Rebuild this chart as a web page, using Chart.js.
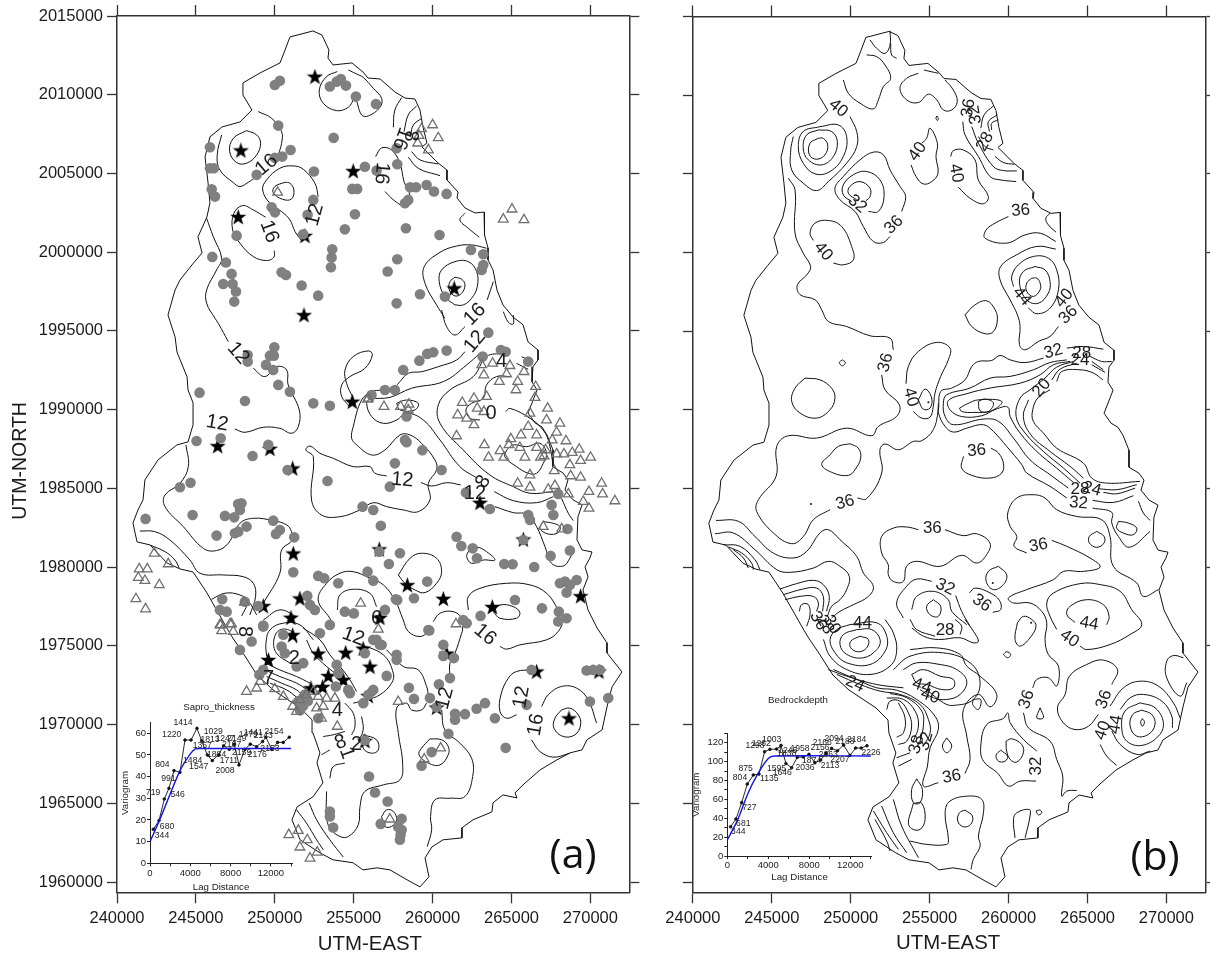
<!DOCTYPE html>
<html>
<head>
<meta charset="utf-8">
<title>Sapro thickness and bedrock depth</title>
<script src="https://cdn.jsdelivr.net/npm/chart.js@4/dist/chart.umd.min.js"></script>
<style>
  html, body { margin: 0; padding: 0; background: #fff; }
  #page { position: relative; width: 1210px; height: 956px; overflow: hidden; }
  canvas { position: absolute; }
</style>
</head>
<body>
<div id="page">
  <canvas id="mapA" width="640" height="956" style="left:0;top:0"></canvas>
  <canvas id="mapB" width="570" height="956" style="left:640px;top:0"></canvas>
  <canvas id="insetA" width="190" height="200" style="left:120px;top:695px"></canvas>
  <canvas id="insetB" width="200" height="195" style="left:691px;top:690px"></canvas>
</div>
<script>
// all map values below are km (east, north) pairs, scaled to metres when plotted
const loop = p => p.concat(p.slice(0, 2));

const xTicks = [240000, 245000, 250000, 255000, 260000, 265000, 270000];
const yTicks = [1960000, 1965000, 1970000, 1975000, 1980000, 1985000, 1990000, 1995000, 2000000, 2005000, 2010000, 2015000];
const lagTicks = [0, 2000, 4000, 6000, 8000, 10000, 12000, 14000];
const lagTickLabels = [0, 4000, 8000, 12000];
const gammaTicksA = [0, 10, 20, 30, 40, 50, 60];
const gammaTicksB = [0, 10, 20, 30, 40, 50, 60, 70, 80, 90, 100, 110, 120, 130];
const gammaTickLabelsB = [0, 20, 40, 60, 80, 100, 120];

const boundary = loop([
  252.42,2014.05, 252.99,2013.79, 253.43,2012.84, 253.37,2012.33, 253.69,2011.89, 254.89,2012.02, 255.59,2011.44, 255.91,2011.06,
  256.67,2011.0, 257.62,2010.17, 258.25,2009.79, 258.88,2009.73, 259.2,2009.03, 259.39,2007.95, 259.64,2006.94, 259.33,2006.68,
  260.34,2005.67, 260.91,2005.22, 260.91,2004.59, 261.61,2003.82, 261.55,2003.44, 262.05,2002.81, 262.69,2002.49, 263.26,2002.55,
  263.32,2001.41, 263.26,2001.09, 263.51,2000.27, 263.51,1999.51, 263.83,1998.87, 264.08,1997.6, 264.46,1996.65, 265.09,1995.89,
  265.73,1995.39, 266.05,1994.3, 266.68,1993.79, 266.68,1993.16, 266.36,1992.72, 266.3,1991.76, 266.62,1991.25, 266.3,1990.43,
  266.05,1989.79, 266.49,1989.16, 266.93,1988.9, 267.25,1988.39, 267.63,1987.44, 267.63,1986.36, 268.26,1985.98, 268.58,1985.54,
  268.39,1984.9, 268.9,1984.27, 269.47,1983.95, 269.21,1983.19, 269.15,1981.73, 269.47,1981.09, 270.1,1980.96, 269.97,1980.58,
  269.66,1980.01, 269.85,1979.38, 269.53,1978.55, 269.85,1977.28, 270.42,1976.14, 271.05,1975.19, 271.05,1974.55, 272.0,1973.34,
  271.37,1972.39, 271.05,1971.12, 270.74,1969.66, 269.78,1969.03, 269.47,1968.39, 268.71,1968.2, 267.88,1967.76, 266.81,1967.12,
  265.73,1966.17, 265.22,1965.66, 265.35,1965.34, 264.46,1965.53, 263.83,1965.03, 263.76,1964.45, 262.56,1963.95, 261.86,1963.44,
  261.86,1962.8, 260.66,1962.68, 259.96,1962.23, 259.52,1961.53, 259.77,1960.33, 259.2,1959.69, 258.38,1960.14, 257.3,1960.77,
  256.48,1960.9, 255.59,1960.77, 254.96,1961.22, 253.69,1961.41, 252.86,1961.85, 251.6,1962.68, 251.09,1963.95, 251.41,1964.77,
  252.42,1965.41, 253.05,1966.3, 252.67,1967.57, 252.86,1968.2, 252.42,1969.47, 252.36,1970.3, 251.6,1971.06, 249.89,1972.2,
  248.87,1973.15, 247.98,1974.55, 247.29,1975.57, 247.03,1976.01, 245.7,1978.36, 244.82,1979.69, 244.0,1979.88, 243.17,1980.26,
  242.09,1981.41, 241.27,1981.6, 241.01,1982.8, 241.33,1983.63, 241.65,1984.27, 241.77,1985.54, 242.6,1986.81, 243.8,1987.76,
  244.5,1987.95, 244.82,1989.03, 244.82,1990.43, 244.5,1991.25, 244.44,1992.08, 243.8,1993.66, 243.68,1994.62, 243.23,1996.01,
  243.68,1997.6, 243.99,1998.23, 244.75,1999.19, 245.39,1999.95, 245.13,2000.97, 245.7,2002.24, 245.89,2003.13, 245.77,2004.4,
  245.58,2006.05, 245.89,2007.32, 246.65,2007.95, 247.79,2008.27, 248.55,2009.03, 247.98,2009.98, 247.98,2010.75, 249.06,2011.38,
  250.33,2012.02, 250.65,2012.84, 250.96,2013.67
]);

const wellDots = [
  250.0,2010.62, 250.32,2010.88, 253.49,2010.52, 253.92,2010.83, 254.19,2011.0, 254.51,2010.58, 255.14,2009.88, 256.41,2009.41,
  250.22,2008.04, 253.73,2007.26, 245.89,2006.66, 251.0,2006.49, 250.0,2005.99, 250.47,2006.07, 245.89,2005.33, 246.14,2005.33,
  248.85,2004.91, 252.48,2005.12, 255.71,2005.43, 256.45,2005.18, 257.72,2006.6, 257.76,2005.58, 246.0,2003.99, 246.21,2003.53,
  254.91,2004.02, 255.22,2004.02, 252.44,2003.32, 249.8,2002.85, 250.01,2002.53, 252.08,2002.37, 251.8,2001.14, 247.58,2001.05,
  255.08,2002.41, 254.44,2001.45, 253.64,2000.18, 253.6,1999.66, 253.56,1999.04, 246.04,1999.7, 246.9,1999.34, 247.26,1998.62,
  246.73,1997.98, 247.33,1997.98, 247.54,1997.5, 247.43,1996.86, 250.43,1998.72, 250.71,1998.55, 251.7,1997.88, 252.75,1997.24,
  257.15,1998.77, 257.76,1999.55, 257.72,1996.75,
  258.57,2004.12, 258.95,2004.12, 259.62,2004.27, 260.09,2003.85, 260.89,2003.7, 258.25,2003.11, 258.46,2003.32, 258.31,2001.52,
  260.44,2001.09, 262.43,2000.14, 263.21,1999.87, 263.11,1998.87, 263.21,1999.19, 259.2,1997.33, 260.78,1997.18,
  249.97,1993.96, 248.28,1993.47, 248.28,1993.05, 249.69,1993.43, 249.94,1993.43, 249.44,1992.84, 249.9,1992.52, 250.22,1991.57,
  250.96,1991.14, 245.23,1991.08, 248.11,1990.55, 252.44,1990.4, 253.49,1990.25, 256.13,1990.93, 256.98,1991.25, 257.61,1991.25,
  245.04,1988.01, 246.57,1988.18, 249.59,1987.76, 248.59,1987.06, 250.81,1986.17, 253.34,1985.47, 257.61,1986.59, 257.29,1985.11,
  244.66,1985.36, 243.99,1985.07, 247.68,1984.01, 247.89,1984.05, 247.79,1983.63, 244.79,1983.31, 246.84,1983.25, 247.43,1983.16,
  241.81,1983.06, 248.21,1982.57, 247.68,1982.25, 247.47,1982.15, 246.31,1982.0, 249.9,1982.95, 250.32,1982.36, 250.07,1982.1,
  251.23,1981.89, 255.56,1983.84, 256.24,1983.63, 256.72,1982.63, 256.62,1980.98, 257.93,1980.88, 257.23,1980.2, 251.17,1979.67,
  255.88,1979.71, 256.24,1979.14, 252.75,1979.44, 253.13,1979.29, 254.02,1978.97, 252.06,1978.17, 252.23,1977.6, 252.54,1977.28,
  246.67,1977.96, 246.52,1977.28, 246.95,1977.17, 248.95,1977.53, 248.1,1977.8, 254.44,1977.17, 255.01,1977.06, 256.98,1977.28,
  257.67,1977.95, 249.27,1976.22,
  263.53,1994.89, 260.89,1993.75, 260.04,1993.64, 259.66,1993.54, 259.16,1993.11, 258.14,1992.52, 263.17,1993.37, 264.33,1993.79,
  264.63,1993.68, 266.06,1993.05, 258.35,1989.56, 258.25,1988.07, 258.35,1987.93, 259.35,1987.42, 260.57,1986.17, 262.11,1984.73,
  263.63,1983.69, 266.06,1983.31, 266.17,1982.99, 267.96,1984.64, 267.54,1983.95, 267.65,1983.31, 268.55,1982.42, 261.52,1981.93,
  261.82,1981.34, 262.54,1981.19, 262.81,1980.56, 264.54,1980.2, 265.07,1980.18, 266.44,1980.01, 267.48,1980.71, 268.7,1981.05,
  265.75,1981.72, 259.66,1979.08, 258.82,1978.02, 257.76,1977.91, 265.22,1977.91, 266.93,1977.38, 263.04,1976.9, 268.0,1977.17,
  268.49,1976.75, 267.96,1976.54, 268.07,1978.97, 268.39,1979.08, 269.13,1979.18, 268.49,1978.38, 268.7,1978.87, 261.94,1976.64,
  262.16,1976.43, 259.73,1976.0,
  256.24,1975.38, 256.66,1975.06, 257.72,1974.43, 257.72,1974.11, 259.79,1975.97, 260.68,1975.06, 260.68,1974.36, 261.35,1974.22,
  261.1,1972.95, 257.09,1973.09, 258.5,1972.33, 260.4,1972.56, 256.24,1972.2, 255.93,1971.89, 255.61,1971.36, 258.82,1971.63,
  259.83,1971.68, 260.25,1971.1, 261.42,1970.68, 261.42,1970.3, 262.05,1970.66, 262.79,1971.0, 263.32,1971.36, 263.95,1970.4,
  265.96,1971.25, 266.27,1973.47, 269.76,1973.43, 270.18,1973.47, 270.6,1973.47, 271.13,1971.68, 269.97,1971.46, 261.0,1969.41,
  259.94,1968.25, 259.3,1967.38, 264.63,1968.52, 255.71,1968.99, 255.97,1966.7, 256.35,1965.68, 257.15,1965.11, 258.04,1964.01,
  256.71,1963.69, 258.04,1963.31, 257.97,1963.0, 257.93,1962.68,
  249.27,1976.29, 250.54,1975.7, 252.86,1975.8, 253.49,1976.33, 250.43,1974.96, 250.64,1974.53, 251.8,1973.9, 251.38,1973.69,
  249.27,1973.47, 249.02,1973.16, 248.53,1975.27, 247.79,1974.74, 253.92,1973.79, 254.02,1973.26, 253.87,1972.42, 254.65,1972.2,
  254.76,1971.99, 255.71,1974.53, 256.45,1975.38, 256.77,1975.06, 252.75,1970.4, 253.49,1964.48, 253.49,1964.16, 253.7,1963.46,
  257.82,1963.5, 251.5,1971.5, 251.8,1971.2, 252.1,1971.5, 251.6,1970.9, 251.9,1971.9, 251.7,1971.3
];

const wellStars = [
  252.54,2011.11, 247.85,2006.43, 254.97,2005.12, 247.68,2002.2, 251.91,2001.0, 251.85,1995.97, 261.37,1997.67, 254.91,1990.47,
  246.38,1987.65, 249.69,1987.48, 251.13,1986.23, 251.17,1980.83, 256.62,1981.09, 251.59,1977.97, 249.27,1977.49, 251.02,1976.75,
  256.66,1976.75, 263.0,1984.05, 265.75,1981.72, 258.4,1978.82, 260.68,1977.95, 263.78,1977.43, 269.38,1978.12, 251.13,1975.65,
  249.59,1974.07, 252.75,1974.47, 254.49,1974.53, 256.03,1973.64, 253.39,1973.05, 254.34,1972.8, 252.29,1972.27, 253.03,1972.35,
  255.92,1971.78, 255.6,1974.79, 260.89,1974.47, 260.25,1971.04, 266.59,1973.33, 270.54,1973.33, 268.64,1970.36, 255.71,1968.92
];

const wellTriangles = [
  250.18,2003.8, 260.0,2008.08, 259.3,2007.83, 259.14,2007.4, 260.36,2007.26, 259.05,2006.92, 259.73,2006.49, 265.03,2002.73,
  264.48,2002.09, 265.79,2002.05, 255.93,1990.72, 256.92,1990.19, 257.97,1990.19, 258.5,1990.34, 258.46,1989.98, 263.11,1992.84,
  263.8,1992.94, 264.9,1992.79, 263.25,1992.2, 264.69,1992.26, 264.23,1991.78, 265.79,1992.41, 265.39,1991.78, 265.28,1991.25,
  266.53,1991.46, 266.49,1990.76, 261.88,1990.45, 262.62,1990.72, 263.42,1990.83, 262.83,1990.08, 263.25,1989.87, 261.59,1989.66,
  262.16,1989.45, 262.62,1989.03, 261.52,1988.33, 267.29,1990.08, 266.17,1989.77, 267.22,1989.34, 268.07,1989.13, 266.06,1988.92,
  267.86,1988.56, 265.6,1988.39, 266.59,1988.39, 264.96,1988.14, 267.58,1988.07, 268.45,1988.01, 263.28,1987.76, 264.84,1987.76,
  264.27,1987.38, 265.53,1987.59, 266.59,1987.59, 267.16,1987.44, 269.29,1987.48, 268.85,1987.27, 268.32,1987.18, 267.86,1987.18,
  267.06,1987.06, 266.84,1986.97, 270.01,1986.97, 263.55,1986.97, 264.52,1986.97, 265.85,1986.97, 269.38,1986.76, 268.7,1986.49,
  267.71,1986.11, 268.75,1985.79, 269.38,1985.7, 266.17,1985.85, 270.71,1985.32, 265.39,1985.32, 266.17,1985.07, 267.75,1985.17,
  267.33,1984.94, 268.6,1984.64, 269.91,1984.79, 270.77,1984.64, 271.55,1984.2, 269.55,1984.16, 269.91,1983.73, 267.01,1982.57,
  268.18,1982.42, 261.48,1976.39, 255.44,1977.7, 256.56,1976.05,
  242.36,1980.88, 243.25,1980.2, 241.41,1979.88, 241.92,1979.88, 241.35,1979.33, 241.77,1979.14, 242.68,1978.87, 241.2,1977.98,
  241.81,1977.34, 255.88,1990.66, 248.07,1977.76, 246.57,1976.32, 247.26,1976.39, 246.52,1976.33, 247.16,1976.4, 246.63,1975.95,
  247.37,1975.91, 248.21,1972.1, 248.85,1972.31, 249.06,1972.73, 250.0,1972.27, 250.54,1971.78, 251.13,1971.15, 251.38,1970.83,
  251.6,1971.57, 252.0,1971.89, 252.44,1972.1, 252.75,1971.78, 253.28,1971.67, 253.81,1971.67, 252.65,1971.04, 253.07,1971.15,
  252.96,1970.4, 253.96,1969.88, 257.82,1971.46, 257.29,1963.99, 250.89,1963.0, 251.49,1963.27, 252.06,1962.68, 251.59,1962.21,
  252.69,1961.89, 252.23,1961.51, 260.51,1968.5, 259.47,1967.8
];

const contoursA = [
  [253.96,2011.47, 253.28,2011.15, 252.82,2010.3, 253.07,2009.46, 253.92,2008.99, 254.66,2009.2, 255.08,2009.71, 255.5,2008.72, 255.92,2008.65, 256.66,2009.2, 256.77,2009.77, 256.24,2010.41, 255.6,2011.1, 255.18,2011.32, 254.66,2011.57],
  loop([248.21,2007.72, 247.37,2007.23, 247.14,2006.39, 247.58,2005.69, 248.21,2005.65, 248.85,2006.18, 249.1,2006.92, 248.85,2007.45]),
  [248.95,2008.93, 249.8,2008.5, 250.43,2007.66, 250.43,2006.92, 250.22,2006.18],
  [246.63,2007.45, 246.35,2006.18, 246.52,2005.22, 247.37,2004.42, 247.79,2004.17, 248.32,2004.44, 248.85,2004.8],
  [252.75,2003.53, 252.54,2004.38, 251.8,2005.27, 251.17,2005.48, 250.32,2005.33, 249.48,2004.59, 249.23,2003.95, 249.69,2003.11, 250.43,2002.58, 250.96,2002.05, 251.28,2001.31, 251.7,2000.73],
  loop([250.64,2004.44, 250.0,2004.17, 249.9,2003.78, 250.49,2003.36, 251.06,2003.38, 251.21,2003.95, 250.96,2004.38]),
  [249.42,2002.22, 248.64,2002.68, 247.96,2002.96, 247.41,2002.47, 247.33,2001.41, 247.79,2000.57, 248.64,1999.72, 249.48,1999.47, 249.94,1999.68, 249.97,2000.1],
  [245.68,2002.15, 246.1,2000.99, 246.63,1999.61, 246.31,1998.87, 245.68,1997.6, 245.68,1996.76, 246.21,1995.8, 246.42,1995.48, 247.05,1994.32],
  [248.64,1992.62, 249.37,1992.1, 250.11,1992.73, 250.75,1992.52, 250.85,1991.57, 251.55,1989.98, 251.49,1988.92, 251.06,1988.5, 250.32,1988.81, 249.27,1988.88, 248.11,1988.56, 247.47,1988.77],
  [258.04,2009.82, 257.61,2009.03, 257.51,2007.93],
  [258.99,2009.29, 258.46,2008.72, 258.19,2007.66],
  [259.3,2008.5, 258.78,2008.08, 258.61,2007.45],
  [258.67,2006.39, 259.2,2005.86, 260.36,2005.6],
  [258.46,2006.03, 259.09,2005.33, 260.47,2004.86],
  [256.39,2006.07, 256.77,2006.62, 257.4,2006.49, 257.93,2005.65, 258.19,2004.48, 258.57,2003.53, 258.25,2002.94, 257.61,2003.25, 256.98,2003.85],
  [262.05,2002.47, 261.73,2002.05, 262.26,2001.52, 262.96,2000.95],
  [260.78,1995.8, 260.25,1996.65, 259.52,1998.02, 259.47,1999.08, 260.47,1999.99, 261.52,2000.39, 262.47,2000.46, 263.42,2000.25],
  loop([261.42,1996.65, 260.78,1997.18, 260.42,1998.13, 260.57,1998.87, 261.42,1999.4, 262.26,1999.4, 262.79,1998.77, 262.83,1997.81, 262.47,1997.07, 261.94,1996.65]),
  loop([261.42,1998.41, 261.1,1998.13, 261.06,1997.6, 261.42,1997.22, 261.84,1997.39, 262.05,1997.92, 261.84,1998.28]),
  [263.85,1998.13, 263.46,1996.97],
  [264.48,1996.22, 264.8,1995.55, 265.11,1995.44, 265.11,1996.01],
  [260.57,1996.33, 260.89,1995.27, 261.42,1994.74, 262.05,1995.27],
  [262.05,1993.68, 261.52,1993.15, 260.36,1992.73, 259.3,1992.41, 258.46,1992.31, 257.93,1991.78, 257.61,1991.46, 256.77,1991.25, 256.14,1991.14, 255.5,1990.61, 254.97,1988.92, 254.87,1988.18, 255.19,1987.76, 256.14,1987.12, 256.98,1987.44, 257.93,1988.39, 258.57,1988.39, 259.3,1987.86, 260.15,1986.8, 260.25,1986.17, 259.73,1985.32, 259.83,1984.26, 259.09,1983.52, 258.14,1983.63, 257.09,1983.84, 256.24,1984.09, 255.4,1983.63, 254.13,1983.2, 252.96,1983.31, 252.33,1984.26, 252.44,1987.01, 251.97,1987.44, 252.23,1987.69, 252.86,1987.23, 253.7,1986.91, 254.97,1986.38, 256.03,1986.38, 256.34,1985.96, 257.08,1985.79],
  [259.26,1985.37, 259.94,1985.15, 260.89,1985.36, 261.78,1985.22],
  [263.0,1993.58, 262.16,1992.84, 260.68,1991.78, 258.67,1991.36, 257.3,1990.78, 256.03,1990.66, 255.82,1990.4, 256.14,1989.56, 256.88,1989.13, 257.72,1989.34, 258.35,1989.77, 259.41,1989.34, 260.47,1988.07, 261.73,1986.38, 262.83,1985.64],
  [264.48,1993.58, 263.42,1993.37, 262.58,1992.1, 261.1,1991.25, 260.36,1990.3, 260.47,1989.13, 261.94,1987.44, 263.63,1985.85, 265.11,1985.11, 266.17,1984.69, 267.65,1984.79],
  [263.91,1984.79, 265.11,1984.22, 266.59,1984.09, 267.65,1984.47],
  [263.95,1983.84, 265.11,1983.46, 265.96,1983.35, 266.59,1982.57, 267.12,1981.3, 267.54,1980.24, 268.28,1980.07, 268.7,1980.56, 268.91,1981.09],
  [264.9,1992.1, 264.06,1992.1, 263.42,1991.57, 263.21,1990.72, 262.47,1990.4, 262.11,1989.98, 262.37,1989.45, 263.0,1989.34],
  [264.63,1989.87, 264.9,1990.08, 266.17,1989.45, 267.01,1988.7, 267.39,1987.86, 267.65,1986.38],
  loop([264.69,1987.44, 265.11,1987.76, 265.96,1987.65, 266.8,1987.86, 267.22,1987.23, 267.01,1986.59, 266.59,1985.96, 266.06,1985.96, 265.32,1986.38, 264.58,1987.0]),
  loop([257.72,1990.4, 258.35,1990.61, 259.09,1990.4, 258.88,1989.98, 257.93,1989.98]),
  loop([267.01,1982.89, 267.65,1982.78, 268.07,1982.57, 267.96,1982.19, 267.33,1982.1, 266.8,1982.46]),
  loop([262.26,1980.98, 262.79,1981.26, 263.42,1980.98, 263.95,1980.45, 263.21,1980.45, 262.47,1980.24, 262.16,1980.66]),
  [254.97,1990.72, 254.55,1991.67, 254.45,1992.52, 254.97,1993.37, 255.93,1993.73, 256.18,1993.47, 255.71,1992.62, 254.76,1992.1, 254.24,1991.57, 254.24,1990.83, 254.76,1990.19],
  loop([257.83,1979.5, 258.57,1980.56, 259.3,1980.88, 260.25,1980.56, 260.57,1979.71, 260.25,1978.97, 259.52,1978.38, 258.88,1978.55, 258.25,1978.97]),
  [262.26,1977.28, 262.26,1978.12, 263.0,1978.65, 264.69,1978.97, 266.17,1978.87, 267.22,1978.34, 267.96,1977.28, 268.24,1976.65, 267.96,1975.91, 267.22,1975.38, 265.53,1975.06, 264.69,1974.79, 264.27,1974.96],
  loop([263.85,1977.17, 264.27,1976.75, 265.32,1976.75, 265.53,1977.11, 265.11,1977.49, 264.27,1977.59]),
  [260.04,1976.54, 260.47,1977.07, 261.31,1977.17, 261.84,1976.75, 261.9,1976.01, 261.84,1975.8, 261.42,1974.53, 261.1,1973.9, 261.1,1972.95],
  [265.64,1993.37, 266.27,1993.05],
  [265.32,1992.94, 266.06,1992.56],
  [268.17,1984.37, 268.6,1983.42, 268.91,1982.95],
  [266.27,1973.47, 265.32,1973.37, 264.8,1972.95, 264.33,1971.89, 264.27,1970.83, 264.69,1970.4, 265.32,1970.62],
  [266.91,1971.15, 267.33,1971.89, 268.17,1972.42, 269.13,1972.31, 269.86,1971.57, 270.39,1970.09],
  [266.27,1969.03, 266.8,1968.29, 267.65,1967.93, 268.7,1968.18],
  loop([268.17,1970.93, 267.75,1970.4, 267.69,1969.77, 268.28,1969.24, 269.02,1969.35, 269.38,1969.98, 269.23,1970.62, 268.7,1971.04]),
  [260.57,1970.93, 260.78,1969.66, 261.73,1968.82, 262.47,1967.86, 262.54,1966.7, 262.05,1965.43, 261.1,1965.32, 260.15,1965.22, 259.87,1964.16, 259.94,1963.31, 259.66,1962.25],
  loop([259.83,1969.09, 259.3,1968.5, 259.14,1968.08, 259.73,1967.55, 260.47,1967.44, 260.99,1968.08, 260.99,1968.61, 260.57,1969.03]),
  [259.62,1971.36, 259.3,1970.93, 258.67,1970.93, 258.35,1971.36, 257.72,1971.04, 257.83,1969.45, 258.1,1967.55, 257.93,1966.49, 256.88,1966.17, 255.71,1965.75, 255.4,1964.8, 255.29,1963.63, 254.66,1962.89, 254.13,1962.89, 253.49,1963.42, 253.28,1964.16, 253.28,1965.75],
  loop([256.77,1964.16, 257.09,1964.58, 257.51,1964.48, 257.72,1963.95, 257.4,1963.53, 256.98,1963.53]),
  [253.7,1976.32, 253.49,1976.75, 252.75,1977.91, 253.28,1978.97, 254.13,1979.61, 254.97,1979.71, 256.03,1979.29, 256.88,1978.87, 257.61,1977.91, 258.14,1976.64, 258.46,1975.91, 259.2,1975.59, 259.79,1975.91],
  [257.09,1974.74, 258.14,1973.69, 259.09,1973.47, 259.62,1972.42, 259.73,1971.78],
  [253.96,1977.28, 254.13,1978.23, 254.97,1978.59, 256.03,1978.33, 256.45,1977.49],
  [252.44,1975.38, 251.59,1976.33, 250.54,1976.44, 249.69,1976.01, 249.44,1975.17, 249.48,1974.32],
  [251.38,1975.17, 251.06,1975.91, 250.32,1976.01, 249.94,1975.38, 250.11,1974.53, 250.96,1973.9],
  [249.42,1973.9, 250.32,1973.47, 251.38,1973.05, 252.23,1972.63],
  [249.37,1973.47, 250.32,1973.05, 251.38,1972.63, 252.12,1972.16],
  [249.48,1973.05, 250.43,1972.63, 251.38,1972.2, 251.85,1971.74],
  [249.69,1972.63, 250.75,1972.2, 251.38,1971.74],
  [251.8,1976.12, 252.86,1975.38, 253.49,1974.43, 254.13,1973.69, 254.76,1972.84, 255.18,1972.1],
  [252.01,1975.38, 252.44,1974.53, 253.28,1973.69, 254.13,1973.05],
  [255.18,1975.17, 256.87,1974.43, 257.51,1973.26, 257.4,1972.63, 256.66,1971.89, 255.81,1971.57, 254.97,1971.36],
  [254.44,1971.36, 254.97,1970.72, 255.08,1969.88, 254.87,1969.35],
  [255.5,1970.51, 255.6,1969.66, 255.29,1968.92],
  [253.07,1969.24, 253.7,1969.35, 254.44,1969.56],
  [252.96,1968.08, 253.49,1968.39],
  [253.49,1966.59, 253.7,1967.33, 254.44,1967.55],
  loop([255.6,1969.35, 256.45,1969.03, 256.56,1968.39, 256.13,1968.18, 255.6,1968.5]),
  [251.38,1964.58, 252.01,1963.74, 252.65,1962.68, 253.07,1962.05],
  [252.18,1965.01, 252.65,1963.95, 253.49,1962.68, 254.34,1961.58],
  [244.37,1987.76, 244.52,1986.38, 243.99,1985.32, 243.04,1984.58, 243.04,1983.84, 244.2,1982.57, 245.47,1981.19, 246.31,1981.05, 247.05,1981.51, 247.79,1982.78, 248.64,1983.1, 249.9,1982.95, 250.75,1982.68, 251.06,1982.25, 251.13,1981.72, 250.43,1981.09, 250.32,1979.61, 249.27,1977.7],
  [241.45,1982.29, 242.4,1982.25, 243.35,1981.72, 244.62,1980.45, 245.26,1979.61, 246.73,1979.5, 248.0,1979.39, 248.64,1978.97, 248.78,1978.12, 248.42,1976.96],
  [242.09,1981.4, 243.04,1980.98, 243.67,1980.45, 243.95,1979.92],
  [245.99,1977.95, 246.84,1978.34, 247.79,1978.23, 248.36,1977.8, 248.85,1976.96],
  [248.32,1977.7, 247.9,1976.9],
  [249.27,1976.64, 250.32,1977.28, 251.38,1976.85]
];

const contourLabelsA = [
  ['16',249.48,2005.54,-40], ['16',249.65,2001.31,70], ['12',252.54,2002.37,-75], ['16',256.77,2005.01,95], ['16',258.04,2007.23,110],
  ['8',258.61,2007.38,90], ['16',262.68,1996.05,-45], ['12',262.68,1994.32,-50], ['4',264.37,1993.05,0], ['0',263.7,1989.77,0],
  ['12',258.08,1985.53,5], ['8',263.21,1985.43,-60], ['12',262.68,1984.69,0], ['12',247.68,1993.58,50], ['12',246.35,1989.13,10],
  ['2',251.23,1974.17,0], ['12',254.97,1975.59,20], ['4',253.96,1970.89,0], ['8',254.17,1968.86,-20], ['2',255.18,1968.71,0],
  ['1',254.55,1968.18,70], ['8',248.1,1975.9,90], ['7',249.6,1972.9,0], ['12',260.78,1971.67,-75], ['12',265.64,1971.74,-80],
  ['16',266.55,1969.98,-80], ['16',263.32,1975.7,40], ['6',256.45,1976.75,0]
];

const contoursB = [
  [249.53,2010.97, 249.85,2010.12, 250.59,2009.49, 251.43,2009.13, 251.75,2009.7, 252.07,2010.55, 252.53,2011.07, 252.17,2011.92, 251.64,2012.45, 251.01,2012.56],
  [251.22,2013.51, 251.64,2012.98, 252.17,2012.66, 252.49,2013.19, 252.49,2014.1],
  [252.53,2013.3, 252.59,2012.56, 252.91,2012.34],
  [254.28,2011.39, 253.54,2011.07, 253.12,2010.44, 253.54,2009.7, 254.28,2009.53, 254.92,2010.06, 255.45,2009.7, 255.87,2009.06, 256.4,2009.06, 256.75,2009.59, 256.5,2010.33, 255.97,2010.97],
  [254.64,2011.6, 255.55,2011.39],
  loop([255.45,2008.68, 255.55,2008.53, 255.49,2008.39, 255.4,2008.53]),
  [254.5,2006.95, 254.81,2007.26, 255.02,2007.9, 255.49,2006.95, 255.4,2006.1, 255.53,2005.04, 255.13,2004.51, 254.6,2004.36, 254.14,2004.83, 253.82,2005.57],
  [256.33,2006.1, 256.5,2006.48, 257.13,2006.52, 257.87,2005.89, 258.08,2004.62, 258.72,2003.56, 258.4,2003.1, 257.56,2003.45, 256.82,2004.15],
  loop([247.95,2007.26, 247.42,2006.95, 247.38,2006.21, 247.84,2005.93, 248.37,2006.21, 248.54,2006.84, 248.26,2007.26]),
  loop([247.95,2007.79, 247.21,2007.48, 246.99,2006.63, 247.31,2005.89, 248.16,2005.57, 248.9,2006.1, 249.15,2007.05, 248.79,2007.69]),
  [248.05,2008, 246.99,2007.69, 246.68,2006.73, 246.99,2005.68, 247.74,2005, 248.69,2005.15, 249.53,2006.1, 249.74,2007.37, 249.21,2008.11, 248.05,2008],
  [249.95,2008.64, 250.38,2007.69, 250.38,2006.73, 249.74,2005.68, 248.58,2004.51, 247.84,2003.94, 246.99,2004.41, 246.26,2005.25, 246.2,2006.52, 246.36,2007.37],
  [250.38,2003.35, 249.85,2003.77, 249.95,2004.2, 250.59,2004.51, 251.22,2004.09, 251.22,2003.56, 250.95,2003.28],
  [251.12,2002.61, 251.75,2002.61, 252.11,2003.56, 251.85,2004.62, 251.01,2005.15, 250.16,2004.94, 249.53,2004.3, 249.53,2003.66, 250.06,2003.24],
  [253.23,2002.61, 253.48,2003.56, 253.12,2004.2, 252.49,2005.25, 252.07,2006.21, 251.43,2006.38, 250.59,2005.89, 249.53,2004.83, 249.0,2004.09, 249.32,2003.35, 250.27,2002.61, 250.8,2001.65, 251.43,2000.7, 252.07,2000.64, 252.49,2001.02],
  [247.63,2000.77, 247.42,2001.23, 247.74,2001.87, 248.58,2002.04, 249.43,2001.65, 250.06,2000.38, 250.17,1999.54, 249.53,1999.22, 248.9,1999.33],
  [246.05,2004.72, 246.47,2003.98, 246.47,2001.23, 246.99,1999.96, 247.46,1999.11, 247.21,1998.58, 246.62,1997.95, 246.79,1997.32, 247.74,1997.0, 248.16,1996.36, 248.58,1995.62, 249.74,1995.3, 251.22,1994.71, 252.49,1994.56, 252.7,1993.82],
  [248.69,1983.66, 247.63,1983.02, 247.0,1981.96, 246.26,1981.5, 245.1,1982.18, 244.04,1983.55, 244.15,1984.29, 245.27,1985.78, 245.31,1987.68, 246.05,1988.36, 247.84,1988.21, 249.74,1988.84, 251.33,1988.36, 251.75,1988.95, 252.91,1989.59, 253.08,1990.33, 252.17,1991.28, 251.96,1992.23],
  [250.42,1984.4, 251.01,1984.36, 251.96,1985.99, 251.85,1987.47, 252.17,1987.83, 253.02,1987.47, 253.97,1988, 254.5,1988.04, 255.23,1988.74, 255.55,1990, 255.7,1991.17, 256.4,1991.39, 257.24,1991.91, 257.67,1992.76, 258.09,1993.08, 258.93,1993.14, 259.46,1993.46, 260.1,1993.18, 261.05,1993.01, 262.21,1993.29],
  [253.5,1991.66, 253.65,1992.76, 254.28,1993.71, 255.45,1994.29, 256.29,1993.93, 256.18,1993.18, 255.7,1992.13, 255.34,1991.07, 255.23,1990.22, 255.02,1989.54, 254.49,1989.48, 253.97,1989.9],
  loop([254.28,1990.64, 254.71,1991.32, 255.13,1990.75, 255.02,1990.11, 254.6,1990.05]),
  loop([249.47,1993.18, 249.66,1993.01, 249.47,1992.8, 249.28,1993.01]),
  loop([247.1,1992.02, 248.05,1991.91, 248.79,1991.38, 249.0,1990.75, 248.69,1990.01, 247.84,1989.48, 246.79,1989.8, 246.26,1990.54, 246.47,1991.38]),
  loop([249.95,1987.85, 250.48,1987.57, 250.63,1986.94, 250.27,1986.2, 249.85,1985.84, 248.9,1985.99, 248.16,1986.52, 248.69,1987.15, 249.21,1987.68]),
  [241.46,1982.98, 242.88,1982.92, 243.93,1981.96, 245.1,1980.9, 246.36,1980.59, 247.21,1981.01, 248.05,1982.18, 248.58,1982.39, 249.32,1981.75, 250.38,1980.69, 250.8,1979.64, 251.43,1978.79, 251.12,1978.15, 250.16,1977.62, 249.32,1977.2, 248.79,1976.78],
  [241.4,1982.13, 242.56,1982.18, 243.93,1981.12, 245.31,1979.85, 246.15,1979.68, 247.63,1979.95, 248.58,1980.38, 249.32,1980.06, 249.91,1979.42, 249.74,1978.58, 249.32,1977.94, 248.79,1977.52, 248.52,1976.88],
  [241.93,1981.43, 242.98,1981.33, 243.93,1980.48, 244.25,1979.85],
  [242.25,1981.29, 243.09,1980.91, 243.72,1980.27, 243.83,1979.85],
  [242.56,1981.12, 243.2,1980.59, 243.51,1979.95],
  [245.52,1978.62, 246.57,1978.96, 247.63,1979.17, 248.26,1978.9, 248.64,1978.15, 248.47,1977.2],
  [245.73,1978.26, 246.99,1978.62, 247.84,1978.68, 248.26,1978.15, 248.22,1977.2],
  [245.84,1977.94, 246.79,1978.15, 247.63,1978.15, 247.95,1977.73, 247.84,1977.2],
  [246.74,1977.2, 246.89,1977.63, 247.31,1977.63, 247.42,1976.99, 247.21,1976.25],
  [255.97,1982.39, 257.13,1982.01, 257.98,1982.13, 258.82,1981.54, 258.61,1980.8, 257.98,1980.27, 257.03,1980.76, 255.66,1980.06, 254.18,1980.38, 253.54,1980.06, 253.33,1979.1, 252.7,1979.1, 252.38,1979.53, 252.38,1980.16, 251.96,1980.91, 251.96,1981.96, 252.7,1982.49, 253.54,1982.56, 254.28,1982.39],
  [257.14,1987.05, 257.03,1986.3, 257.67,1985.84, 258.83,1985.67, 259.57,1985.99, 259.67,1986.62, 259.36,1987.26, 258.89,1987.57],
  loop([257.24,1996.04, 257.88,1996.68, 258.62,1996.93, 259.15,1996.36, 259.29,1995.72, 259.04,1994.98, 258.51,1994.84, 257.67,1995.3]),
  loop([261.47,1998.37, 261.15,1998.06, 261.15,1997.53, 261.57,1997.21, 262.0,1997.63, 262.0,1998.06, 261.79,1998.37]),
  [261.68,1999.11, 260.94,1998.8, 260.69,1998.06, 261.15,1996.99, 261.89,1996.78, 262.52,1997.42, 262.63,1998.16, 262.31,1998.9, 261.68,1999.11],
  [261.26,1996.47, 261.79,1996.11, 262.63,1996.47, 263.16,1997.63, 263.05,1998.9, 262.52,1999.64, 261.57,1999.75, 260.62,1999.22, 260.2,1998.48, 260.31,1997.84],
  [262.99,2000.22, 261.79,2000.39, 260.52,1999.86, 259.5,1999.11, 259.46,1998.27, 260.1,1996.99, 260.56,1996.04, 260.73,1995.3, 260.69,1994.14, 261.05,1993.82, 261.89,1994.35, 262.63,1994.67, 263.16,1995.3],
  [259.99,2002.29, 259.15,2001.87, 258.58,2001.44, 258.51,2000.91, 259.88,2000.6, 261.05,2001.12, 262.0,2001.23, 262.99,2000.7],
  [262.63,2002.5, 262.36,2002.18, 262.52,2001.76, 263.01,2001.29],
  [257.1,2008.32, 257.24,2007.48, 258.09,2006.1, 258.83,2004.83, 259.46,2004.62, 260.48,2004.51],
  [257.67,2008, 258.09,2006.95, 259.04,2005.46, 259.67,2005.21, 260.52,2005.19],
  [259.15,2006.1, 259.67,2005.72, 260.35,2005.61],
  [258.24,2007.9, 258.45,2008.75, 259.04,2009.32],
  [258.79,2007.69, 258.72,2008.32, 259.29,2008.75],
  [258.93,2007.79, 258.93,2008.22, 259.36,2008.43],
  [258.09,2007.37, 258.51,2006.73, 259.04,2006.52],
  [255.56,1990.43, 255.56,1989.8, 255.98,1988.95, 256.51,1988.59, 257.35,1988.84, 258.41,1989.06, 259.04,1988.63, 259.88,1987.68, 260.84,1986.52, 261.15,1985.99, 262.63,1985.14, 263.69,1984.4],
  [263.69,1993.18, 262.63,1993.01, 261.57,1992.55, 260.1,1992.13, 258.83,1992.02, 257.56,1991.39, 256.08,1990.96, 255.87,1990.43, 255.98,1989.58, 256.51,1989.06, 258.41,1989.42, 259.36,1989.27, 260.31,1988.21, 261.36,1986.83, 262.63,1985.88, 263.79,1985.03],
  [263.9,1993.08, 262.84,1992.87, 262.0,1992.23, 260.73,1991.7, 258.83,1991.39, 257.35,1991.03, 256.19,1990.6, 256.29,1990.01, 257.03,1989.58, 258.3,1989.63, 259.21,1990.05, 259.95,1990.18, 260.1,1989.58, 260.73,1988.53, 261.79,1987.36, 263.05,1986.3, 264.11,1985.39],
  loop([256.89,1990.11, 257.35,1990.37, 258.09,1990.64, 259.57,1990.54, 258.93,1989.95, 257.77,1989.84, 257.03,1989.9]),
  loop([258.09,1990.54, 258.51,1990.69, 259.04,1990.43, 258.72,1989.9, 258.19,1989.95]),
  [264.11,1993.08, 263.05,1992.72, 262.31,1992.02, 261.36,1991.28, 260.73,1990.75, 260.48,1989.58, 261.05,1988.53, 262.21,1987.36, 263.48,1986.3, 264.53,1985.35],
  [264.32,1992.97, 263.26,1992.59, 262.74,1991.91],
  [261.26,1990.64, 260.94,1989.58, 261.41,1988.42, 262.63,1987.36, 263.9,1986.41, 264.74,1985.67],
  [263.05,1991.81, 263.37,1992.44, 264.53,1992.55, 265.38,1992.34, 265.97,1991.91],
  [262.63,1991.28, 261.89,1990.81, 261.53,1990.01, 261.57,1989.27, 262.21,1988.53, 263.05,1987.57, 264.74,1986.62, 265.27,1985.67, 266.22,1985.35, 268.33,1985.46],
  [265.69,1984.99, 266.85,1984.93, 268.12,1985.25],
  [266.01,1984.76, 266.85,1984.67, 268.02,1985.03],
  [265.33,1984.25, 266.64,1984.12, 267.91,1984.55],
  [263.69,1993.93, 264.74,1994.03, 266.01,1993.86],
  [265.16,1993.4, 265.9,1993.08, 266.54,1993.08],
  [265.27,1993.08, 266.01,1992.55],
  [265.27,1992.87, 266.12,1992.38],
  [265.33,1983.76, 266.54,1983.49, 266.54,1982.81, 266.96,1981.96, 267.66,1981.27, 268.97,1982.28],
  loop([266.96,1982.92, 267.59,1982.81, 268.12,1982.49, 267.91,1982.07, 267.28,1982.17, 266.85,1982.49]),
  [268.23,1984.19, 268.54,1983.45, 268.97,1982.98],
  [261.15,1980.91, 260.35,1981.33, 260.52,1981.96, 260.1,1982.6, 259.95,1983.45, 260.52,1984.4, 261.57,1984.61, 262.31,1984.4, 263.05,1983.66, 264.32,1983.23, 265.9,1983.02, 266.43,1981.96, 266.64,1980.06, 268.12,1979.0, 268.54,1978.15, 269.49,1978.58],
  [262.74,1981.71, 263.69,1981.33, 265.16,1980.59, 265.8,1980.02, 264.74,1979.74, 263.48,1979.74, 262.84,1979.21, 261.15,1978.58, 259.99,1978.05, 260.31,1977.73, 261.36,1977.73, 262.1,1977.2, 262.42,1976.47, 262.31,1975.41, 262.52,1974.46, 263.16,1973.72, 263.05,1972.45, 262.52,1972.98, 261.79,1972.87, 261.53,1972.34],
  [260.94,1970.75, 261.26,1969.8, 262.63,1968.95, 263.05,1967.79, 263.43,1966.73, 263.37,1965.46, 263.69,1965.78, 264.32,1965.82],
  loop([265.59,1982.28, 266.05,1981.96, 266.05,1981.54, 265.59,1981.27, 265.12,1981.54, 265.12,1981.96]),
  loop([259.36,1980.06, 259.88,1979.53, 259.67,1978.9, 259.04,1978.58, 258.58,1979.11, 258.72,1979.74]),
  [257.52,1978.37, 257.88,1978.68, 258.83,1978.37, 259.42,1977.9, 259.5,1977.31, 259.0,1977.14],
  [255.13,1979.11, 254.18,1979.25, 253.54,1978.79, 252.91,1977.73, 253.33,1976.78],
  loop([255.23,1977.94, 255.7,1977.52, 255.55,1976.88, 255.02,1976.99, 254.81,1977.52]),
  [253.86,1977.31, 254.18,1978.15, 255.23,1978.47, 256.18,1977.94, 256.4,1977.2, 257.35,1976.35],
  [256.65,1978.2, 257.03,1977.2, 257.56,1976.25],
  loop([250.59,1975.62, 251.12,1975.41, 251.01,1974.88, 250.49,1974.63, 250.0,1974.88, 250.0,1975.3]),
  loop([250.38,1976.04, 251.33,1976.04, 251.86,1975.41, 251.65,1974.77, 250.8,1974.25, 249.75,1974.46, 249.32,1975.09, 249.54,1975.73]),
  loop([249.96,1976.36, 251.65,1976.47, 252.28,1975.62, 252.18,1974.67, 251.22,1973.82, 249.75,1973.93, 249.01,1974.56, 248.69,1975.41, 249.11,1976.04]),
  [248.27,1975.41, 248.69,1974.35, 249.75,1973.5, 251.22,1973.19, 252.49,1973.72, 252.91,1974.67, 252.7,1975.83, 252.18,1976.68],
  [248.58,1973.5, 249.75,1973.08, 251.65,1972.55, 253.34,1972.34],
  loop([253.86,1973.19, 254.6,1973.5, 255.66,1973.08, 256.5,1972.87, 256.5,1972.34, 255.77,1972.23, 254.82,1972.55, 254.18,1972.66]),
  [253.34,1973.5, 254.18,1973.93, 255.66,1973.82, 256.72,1973.5, 257.35,1972.76, 256.93,1971.92, 256.08,1971.6, 255.24,1971.71, 254.39,1972.23],
  [252.7,1973.5, 253.76,1974.35, 255.87,1974.56, 257.56,1973.93, 258.19,1972.76, 257.77,1971.6, 256.5,1971.22, 255.87,1971.39, 254.92,1972.13],
  [253.76,1976.68, 254.18,1976.04, 255.34,1975.62],
  [256.93,1975.73, 257.03,1976.26, 256.61,1976.68],
  [257.24,1976.68, 257.77,1975.94, 258.09,1975.3, 257.77,1975.2, 256.93,1975.52, 255.56,1975.41, 254.61,1975.62, 253.87,1976.15],
  [253.76,1974.77, 255.45,1974.88, 256.93,1974.46, 257.35,1973.72, 258.2,1973.08, 259.25,1971.92, 258.83,1971.13, 258.09,1971.92, 257.14,1970.96, 257.35,1969.27, 257.56,1967.79, 257.24,1966.9],
  loop([257.77,1971.6, 258.24,1971.6, 258.09,1970.96, 257.73,1971.28]),
  loop([259.67,1974.46, 259.88,1974.63, 260.14,1974.46, 259.93,1974.25]),
  loop([262.0,1971.07, 262.21,1970.43, 261.79,1970.43]),
  loop([260.56,1976.47, 260.41,1975.41, 260.73,1974.99, 261.36,1975.52, 261.74,1976.26, 261.47,1976.68, 260.94,1976.88]),
  [261.79,1968.32, 260.94,1969.06, 260.1,1970.12, 259.95,1970.75, 259.67,1970.39, 258.62,1970.01, 258.24,1968.64, 258.41,1967.68, 259.29,1966.94, 259.99,1966.1, 260.73,1966.41, 261.74,1966.41],
  loop([259.84,1968.95, 260.2,1969.1, 260.83,1968.74, 260.94,1968.21, 260.52,1967.62, 260.1,1967.79, 259.88,1968.32]),
  loop([259.5,1968.38, 259.93,1968, 259.78,1967.68, 259.36,1967.68, 259.21,1968.06]),
  [257.62,1960.8, 257.77,1961.44, 258.2,1962.28, 258.09,1962.92, 258.41,1964.4, 258.3,1965.25, 257.46,1965.46, 256.29,1965.14, 255.98,1964.4, 256.19,1962.71, 256.08,1962.39, 254.82,1962.39, 253.76,1962.6],
  loop([257.24,1964.57, 257.71,1964.19, 257.6,1963.66, 257.14,1963.51, 256.78,1963.87, 256.89,1964.4]),
  [260.41,1962.81, 260.31,1963.98, 260.52,1964.4, 261.32,1964.61, 261.36,1964.19, 261.05,1962.81],
  loop([261.74,1964.51, 261.99,1964.57, 262.1,1964.4, 261.89,1964.27]),
  [263.05,1976.05, 262.63,1976.88, 262.42,1977.73, 262.84,1978.36, 264.53,1978.96, 265.8,1978.9, 267.07,1978.47, 267.8,1977.31, 268.44,1976.36, 267.7,1975.73, 266.43,1975.09, 264.95,1974.77, 264.53,1974.99],
  [264.21,1976.5, 263.69,1977.0, 263.9,1977.52, 264.95,1977.94, 266.01,1977.62, 266.37,1976.88, 266.22,1976.35],
  [266.54,1972.55, 266.9,1973.5, 266.01,1974.1, 264.95,1973.82, 263.86,1973.08, 263.58,1971.92, 263.1,1971.07, 263.47,1970.12, 264.21,1969.69, 265.06,1969.9, 265.69,1970.65],
  loop([268.48,1970.39, 268.61,1970.16, 268.48,1969.9, 268.37,1970.16]),
  loop([268.44,1970.92, 269.07,1970.65, 269.28,1970.01, 268.86,1969.38, 268.12,1969.27, 267.7,1969.91, 267.87,1970.65]),
  loop([268.33,1971.39, 269.28,1971.07, 269.81,1970.12, 269.49,1969.27, 268.44,1968.68, 267.49,1968.95, 267.17,1969.8, 267.38,1970.86]),
  [267.07,1970.96, 267.7,1971.7, 268.54,1971.92, 269.71,1971.49, 270.34,1970.54, 270.38,1969.8],
  [266.54,1969.59, 267.07,1968.74, 268.12,1968.11, 268.97,1968.32],
  [266.43,1971.18, 267.28,1972.34, 268.33,1972.76, 269.49,1972.45, 270.44,1971.39, 270.87,1970.43],
  [265.8,1968.74, 266.22,1968, 266.85,1967.41],
  [271.08,1974.25, 270.44,1974.39, 270.02,1974.03, 270.02,1972.97, 270.87,1971.81, 271.29,1972.66],
  [248.9,1973.5, 250.38,1972.87, 251.65,1972.34, 252.91,1972.19, 254.18,1971.6, 255.34,1970.54, 255.55,1969.69, 255.03,1968.53, 254.86,1967.37, 254.6,1966.1, 255.55,1966.31],
  [249.11,1973.19, 250.6,1972.55, 251.86,1972.13, 253.13,1971.92, 254.39,1971.28, 254.92,1970.33, 255.03,1969.48, 254.6,1968.64],
  [252.49,1971.98, 253.55,1971.71, 254.5,1970.86, 254.6,1969.91, 254.39,1968.95],
  [252.28,1971.7, 253.34,1971.6, 254.08,1970.86, 254.29,1969.91, 253.97,1968.95],
  [252.28,1970.96, 252.49,1971.49, 253.13,1971.49, 253.65,1970.75, 253.86,1969.91, 253.55,1968.95, 253.02,1968.74],
  [253.02,1971.39, 253.44,1970.43, 253.34,1969.48, 252.91,1969.2],
  [252.91,1967.9, 253.76,1968.21],
  [253.02,1967.37, 253.86,1967.79],
  loop([254.18,1966.56, 254.54,1965.88, 254.39,1965.04, 253.97,1965.04, 253.86,1965.88]),
  loop([253.97,1965.0, 254.5,1965.0, 254.71,1963.98, 254.39,1963.34, 253.86,1963.39, 253.65,1963.77, 253.86,1964.61]),
  loop([256.08,1969.16, 256.4,1968.64, 256.08,1968.21, 255.81,1968.64]),
  [251.44,1964.51, 252.28,1963.13, 253.02,1962.07],
  [251.96,1964.83, 252.7,1963.13, 253.55,1961.86],
  [252.7,1965.25, 253.23,1963.55, 254.29,1961.54],
  [251.54,1963.98, 252.28,1962.6, 252.49,1961.97]
];

const contourSpotsB = [247.48,1984.02, 254.92,1990.48, 259.0,1979.0, 261.43,1976.47];

const contourLabelsB = [
  ['40',249.21,2009.17,40], ['40',254.24,2006.42,-55], ['40',256.67,2005.04,80], ['32',250.42,2003.09,40], ['36',252.74,2001.76,-45],
  ['40',248.26,2000.07,50], ['36',257.46,2009.17,-80], ['32',257.88,2008.75,-100], ['28',258.51,2007.05,-60], ['36',260.77,2002.67,-5],
  ['44',260.84,1997.21,50], ['40',263.52,1997.1,-50], ['36',263.79,1996.04,-45], ['40',253.8,1990.81,75], ['36',252.21,1993.01,-75],
  ['36',249.64,1984.12,-15], ['36',255.17,1982.49,0], ['36',257.98,1987.41,-5], ['32',262.84,1993.71,-15], ['28',264.64,1993.61,0],
  ['24',264.53,1993.18,0], ['20',262.1,1991.39,-50], ['24',265.27,1984.97,15], ['28',264.53,1984.93,0], ['32',264.43,1984.08,5],
  ['36',261.89,1981.39,-10], ['32',255.98,1978.75,25], ['36',258.3,1977.73,35], ['44',265.1,1976.42,10], ['44',250.74,1976.42,0],
  ['28',255.98,1975.98,0], ['40',263.86,1975.47,35], ['44',254.5,1972.45,20], ['40',255.03,1971.81,20], ['24',250.27,1972.59,25],
  ['38',254.18,1968.74,-75], ['32',254.75,1968.95,-75], ['36',256.4,1966.69,-10], ['36',261.15,1971.6,-70], ['32',261.74,1967.37,-90],
  ['36',266.05,1971.6,-70], ['44',266.79,1970.01,-80], ['40',265.97,1969.63,-70], ['36',247.95,1976.6,60], ['28',248.37,1976.35,60], ['30',248.8,1976.35,60]
];

// inset variograms
const lagA = [330,890,1420,1880,2380,2975,3470,4070,4660,5120,5690,6180,6780,7300,7870,8360,8830,9420,9950,10580,11170,11500,12070,12660,13220,13820];
const gammaA = [15.7,19.7,29.7,34.6,42.8,42,56.9,56.9,62.3,56.6,50,47.4,50,54.2,52.6,55,45.4,52.6,55,53.8,56.2,58.2,52.6,55.8,55.8,58.2];
const modelLagA = [0,1000,2000,3000,4000,4500,5000,14000];
const modelGammaA = [10,20.5,32,43,50.5,52.8,53,53];
const pairLabelsA = [
  ['344',1190,12.6],['680',1690,17],['546',2740,31.7],['719',300,32.4],['991',1820,39.2],['804',1220,45.7],['1220',2150,59.4],['1414',3270,64.8],
  ['1029',6280,60.9],['1813',5950,57.2],['1247',7440,57.7],['2149',8600,57.7],['1479',9750,59.2],['1441',10250,60.5],['2143',11240,58.8],['2154',12300,60.6],
  ['1357',5190,54.4],['2107',8100,54.6],['2153',11900,53.1],['1884',6610,50],['1484',4230,47.2],['1547',4830,44.6],['1711',7830,47.4],['2008',7440,42.9],
  ['2159',9090,51.1],['2176',10640,50]
];
const lagB = [325,845,1400,1950,2540,3090,3640,4160,4810,5240,5720,6280,6830,7410,7970,8550,9110,9630,10180,10760,11350,11970,12520,13070,13630];
const gammaB = [31,39.2,56.5,76.2,85.8,86.8,110.5,113,113.3,117.2,98,93.5,104.5,105,107.7,98.8,101.7,108.7,114,111.5,117.5,106.6,114.4,114.4,116.8];
const modelLagB = [0,1000,2000,3000,4000,4600,14000];
const modelGammaB = [17,38,66,87.5,103.4,106,106];
const pairLabelsB = [
  ['344',1070,26.1],['681',1560,33.9],['727',2150,51.2],['804',1240,82.6],['875',1790,92.1],['1135',4100,81.5],['1298',2700,116.5],['1262',3320,119.3],
  ['1003',4330,122.8],['1246',5890,111.5],['1838',5790,108.7],['1958',7090,113.7],['2156',9040,115],['2166',9270,120.4],['2094',10410,123.9],['2188',11480,120.7],
  ['2184',12620,123.2],['2226',14020,109.4],['2063',9850,107],['2207',10990,102],['2113',10020,96],['1874',8230,101.3],['2036',7580,93.9],['1595',4810,92.8],['1646',5370,88.2]
];

const FONT = '"Liberation Sans", Arial, sans-serif';
const INK = '#1c1c1c';

function toPoints(flat) {
  const pts = [];
  for (let i = 0; i < flat.length; i += 2) {
    pts.push({ x: flat[i] * 1000, y: flat[i + 1] * 1000 });
  }
  return pts;
}

// filled five point star, Chart.js' own 'star' is only an asterisk
function starImage(size) {
  const c = document.createElement('canvas');
  c.width = size;
  c.height = size;
  const g = c.getContext('2d');
  const mid = size / 2;
  g.beginPath();
  for (let i = 0; i < 10; i++) {
    const r = i % 2 ? mid * 0.4 : mid;
    const a = -Math.PI / 2 + i * Math.PI / 5;
    g.lineTo(mid + r * Math.cos(a), mid + r * Math.sin(a));
  }
  g.closePath();
  g.fillStyle = '#000';
  g.fill();
  return c;
}

// rotated text placed through the chart scales
function textLayer(items) {
  return {
    id: 'textLayer',
    afterDatasetsDraw(chart) {
      const { ctx, scales } = chart;
      items.forEach(item => {
        ctx.save();
        ctx.translate(scales.x.getPixelForValue(item.x), scales.y.getPixelForValue(item.y));
        ctx.rotate((item.rot || 0) * Math.PI / 180);
        ctx.font = item.font;
        ctx.fillStyle = item.color || INK;
        ctx.textAlign = 'center';
        ctx.textBaseline = 'middle';
        ctx.fillText(item.text, 0, 0);
        ctx.restore();
      });
    },
  };
}

function lineSet(flat, tension, order) {
  return {
    data: toPoints(flat),
    showLine: true,
    borderColor: '#111',
    borderWidth: 1,
    tension,
    pointRadius: 0,
    order,
  };
}

function mapScales(withLabels, leftWidth, rightWidth) {
  const axis = {
    min: 240000, max: 272465,
    afterBuildTicks: s => { s.ticks = xTicks.map(value => ({ value })); },
    border: { color: '#333', width: 1.5 },
    grid: { drawOnChartArea: false, tickColor: '#333', tickLength: 11, tickWidth: 1.3 },
  };
  const yAxis = {
    min: 1959346, max: 2015000,
    afterBuildTicks: s => { s.ticks = yTicks.map(value => ({ value })); },
    border: { color: '#333', width: 1.5 },
    grid: { drawOnChartArea: false, tickColor: '#333', tickLength: 10, tickWidth: 1.3 },
  };
  return {
    x: {
      ...axis,
      type: 'linear',
      position: 'bottom',
      afterFit: s => { s.height = 63.7; },
      ticks: { autoSkip: false, maxRotation: 0, color: INK, font: { family: FONT, size: 16.5 }, padding: 5, callback: v => String(v) },
    },
    xTop: {
      ...axis,
      type: 'linear',
      axis: 'x',
      position: 'top',
      afterFit: s => { s.height = 11; },
      ticks: { display: false },
    },
    y: {
      ...yAxis,
      type: 'linear',
      position: 'left',
      afterFit: s => { s.width = leftWidth; },
      ticks: { display: withLabels, autoSkip: false, color: INK, font: { family: FONT, size: 16.5 }, padding: 4, callback: v => String(v) },
    },
    yRight: {
      ...yAxis,
      type: 'linear',
      axis: 'y',
      position: 'right',
      afterFit: s => { s.width = rightWidth; },
      ticks: { display: false },
    },
  };
}

function mapChart(id, datasets, scales, top, items) {
  return new Chart(document.getElementById(id), {
    type: 'scatter',
    data: { datasets },
    options: {
      responsive: false,
      animation: false,
      layout: { padding: { top, left: 0, right: 0, bottom: 0 } },
      plugins: { legend: { display: false }, tooltip: { enabled: false } },
      scales,
    },
    plugins: [textLayer(items)],
  });
}

function labelItems(rows, size) {
  return rows.map(([text, x, y, rot]) => ({
    text, x: x * 1000, y: y * 1000, rot, font: `${size}px ${FONT}`,
  }));
}

const datasetsA = [
  lineSet(boundary, 0, 5),
  ...contoursA.map(c => lineSet(c, 0.4, 4)),
  { data: toPoints(wellStars), pointStyle: starImage(17), pointRadius: 9, order: 3 },
  { data: toPoints(wellDots), pointStyle: 'circle', pointRadius: 5.3, backgroundColor: '#808080', borderWidth: 0, order: 2 },
  { data: toPoints(wellTriangles), pointStyle: 'triangle', pointRadius: 5.6, backgroundColor: 'rgba(255,255,255,0)', borderColor: '#707070', borderWidth: 1.3, order: 1 },
];

const datasetsB = [
  lineSet(boundary, 0, 3),
  ...contoursB.map(c => lineSet(c, 0.4, 2)),
  { data: toPoints(contourSpotsB), pointStyle: 'circle', pointRadius: 1, backgroundColor: '#111', borderWidth: 0, order: 1 },
];

mapChart('mapA', datasetsA, mapScales(true, 117, 10.7), 5, [
  ...labelItems(contourLabelsA, 20),
  { text: '(a)', x: 268900, y: 1961660, font: `41px "Open Sans", sans-serif`, color: '#111' },
  { text: 'UTM-EAST', x: 256030, y: 1956070, font: `20.4px ${FONT}` },
  { text: 'UTM-NORTH', x: 233920, y: 1986740, rot: -90, font: `19.5px ${FONT}` },
]);
mapChart('mapB', datasetsB, mapScales(false, 52.9, 4.7), 5.5, [
  ...labelItems(contourLabelsB, 17),
  { text: '(b)', x: 269280, y: 1961500, font: `41px "Open Sans", sans-serif`, color: '#111' },
  { text: 'UTM-EAST', x: 256170, y: 1956070, font: `20.4px ${FONT}` },
]);

function insetChart(id, cfg) {
  const zip = (xs, ys) => xs.map((x, i) => ({ x, y: ys[i] }));
  const items = cfg.pairs.map(([text, x, y]) => ({ text, x, y, font: `8.6px ${FONT}`, color: '#222' }));
  items.push({ text: cfg.title, x: cfg.titleAt[0], y: cfg.titleAt[1], font: `9.7px ${FONT}`, color: '#222' });
  return new Chart(document.getElementById(id), {
    type: 'scatter',
    data: {
      datasets: [
        { data: zip(cfg.modelLag, cfg.modelGamma), showLine: true, borderColor: '#1414e6', borderWidth: 1.4, tension: 0.25, pointRadius: 0, order: 1 },
        { data: zip(cfg.lag, cfg.gamma), showLine: true, borderColor: '#111', backgroundColor: '#111', borderWidth: 0.9, pointRadius: 1.3, order: 2 },
      ],
    },
    options: {
      responsive: false,
      animation: false,
      layout: { padding: cfg.padding },
      plugins: { legend: { display: false }, tooltip: { enabled: false } },
      scales: {
        x: {
          type: 'linear',
          min: 0, max: 14100,
          afterBuildTicks: s => { s.ticks = lagTicks.map(value => ({ value })); },
          afterFit: s => { s.height = cfg.xHeight; },
          border: { color: '#222', width: 1 },
          grid: { drawOnChartArea: false, tickColor: '#222', tickLength: 3 },
          ticks: { autoSkip: false, maxRotation: 0, padding: 1, color: '#222', font: { family: FONT, size: 9.5 }, callback: v => (lagTickLabels.includes(v) ? String(v) : '') },
          title: { display: true, text: 'Lag Distance', color: '#222', font: { family: FONT, size: 9.7 }, padding: { top: 0, bottom: 2 } },
        },
        y: {
          type: 'linear',
          min: 0, max: cfg.yMax,
          afterBuildTicks: s => { s.ticks = cfg.yTicks.map(value => ({ value })); },
          afterFit: s => { s.width = cfg.yWidth; },
          border: { color: '#222', width: 1 },
          grid: { drawOnChartArea: false, tickColor: '#222', tickLength: 3 },
          ticks: { autoSkip: false, padding: 1, color: '#222', font: { family: FONT, size: 9.5 }, callback: v => (cfg.yLabels.includes(v) ? String(v) : '') },
          title: { display: true, text: 'Variogram', color: '#222', font: { family: FONT, size: 9.7 }, padding: { top: 0, bottom: 0 } },
        },
      },
    },
    plugins: [textLayer(items)],
  });
}

insetChart('insetA', {
  lag: lagA, gamma: gammaA, modelLag: modelLagA, modelGamma: modelGammaA, pairs: pairLabelsA,
  title: 'Sapro_thickness', titleAt: [6845, 72.1], yMax: 64.9, yTicks: gammaTicksA, yLabels: gammaTicksA,
  yWidth: 30, xHeight: 31.7, padding: { top: 27.7, right: 17.9, left: 0, bottom: 0 },
});
insetChart('insetB', {
  lag: lagB, gamma: gammaB, modelLag: modelLagB, modelGamma: modelGammaB, pairs: pairLabelsB,
  title: 'Bedrockdepth', titleAt: [6898, 165], yMax: 130, yTicks: gammaTicksB, yLabels: gammaTickLabelsB,
  yWidth: 36.3, xHeight: 29, padding: { top: 43.3, right: 19.2, left: 0, bottom: 0 },
});
</script>
</body>
</html>
